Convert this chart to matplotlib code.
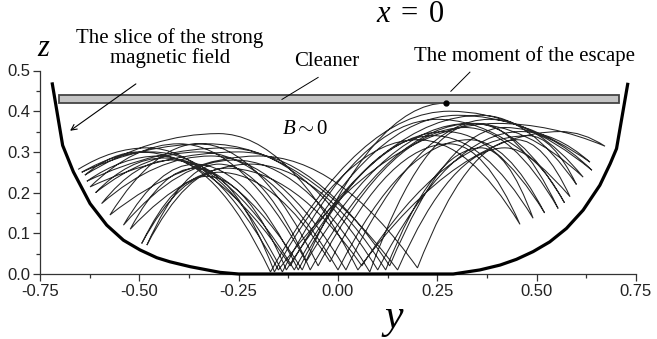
import matplotlib
matplotlib.use("Agg")
import matplotlib.pyplot as plt
from matplotlib.path import Path
from matplotlib.patches import PathPatch, Rectangle
import numpy as np

plt.rcParams['mathtext.fontset'] = 'custom'
plt.rcParams['mathtext.rm'] = 'Liberation Serif'
plt.rcParams['mathtext.it'] = 'Liberation Serif:italic'

# ---------------- data ----------------
x_ticks = [-0.75, -0.50, -0.25, 0.00, 0.25, 0.50, 0.75]
x_tick_labels = ['-0.75', '-0.50', '-0.25', '0.00', '0.25', '0.50', '0.75']
z_ticks = [0.0, 0.1, 0.2, 0.3, 0.4, 0.5]
z_tick_labels = ['0.0', '0.1', '0.2', '0.3', '0.4', '0.5']

# vessel boundary (slice of the strong magnetic field)
wall_y = [-0.719, -0.693, -0.666, -0.624, -0.582, -0.540, -0.498, -0.456, -0.423,
          -0.372, -0.297, -0.25, 0.29, 0.357, 0.408, 0.449, 0.491, 0.533, 0.575,
          0.617, 0.659, 0.685, 0.701, 0.729]
wall_z = [0.467, 0.316, 0.251, 0.173, 0.120, 0.083, 0.059, 0.040, 0.030,
          0.018, 0.004, 0.0, 0.0, 0.010, 0.022, 0.036, 0.055, 0.079, 0.112,
          0.157, 0.218, 0.271, 0.308, 0.466]

# cleaner plate
cleaner_y = [-0.701, 0.708]
cleaner_z = [0.420, 0.439]

# trajectory turning points (wall reflections / bottom bounces), in order
turn_y = [-0.654, -0.15, 0.672, 0.05, -0.637, -0.12, 0.634, 0.10, -0.632, -0.17,
          0.639, 0.13, -0.624, -0.08, 0.617, 0.02, -0.595, -0.14, 0.584, 0.20,
          -0.574, -0.05, 0.554, 0.08, -0.540, -0.10, 0.491, 0.12, -0.523, -0.16,
          0.458, -0.02, -0.494, -0.13, 0.600, 0.06, -0.481, -0.07, 0.570, 0.15,
          -0.645, -0.11, 0.520, 0.00, -0.610, -0.09]
turn_z = [0.257, 0.010, 0.314, 0.010, 0.243, 0.020, 0.275, 0.010, 0.228, 0.005,
          0.255, 0.020, 0.214, 0.030, 0.238, 0.010, 0.173, 0.005, 0.190, 0.015,
          0.145, 0.020, 0.161, 0.005, 0.120, 0.010, 0.137, 0.010, 0.110, 0.005,
          0.122, 0.030, 0.075, 0.010, 0.220, 0.020, 0.071, 0.010, 0.175, 0.010,
          0.250, 0.010, 0.150, 0.010, 0.200, 0.010]
# apex of each arc between consecutive turning points
apex_y = [-0.48, 0.40, 0.56, -0.30, -0.50, 0.30, 0.46, -0.28, -0.45, 0.28,
          0.42, -0.25, -0.40, 0.33, 0.38, -0.32, -0.42, 0.25, 0.45, -0.20,
          -0.35, 0.32, 0.35, -0.26, -0.36, 0.24, 0.36, -0.22, -0.36, 0.20,
          0.28, -0.30, -0.33, 0.36, 0.48, -0.28, -0.30, 0.34, 0.42, -0.33,
          -0.47, 0.27, 0.33, -0.35, -0.44]
apex_z = [0.310, 0.370, 0.350, 0.345, 0.300, 0.390, 0.350, 0.310, 0.290, 0.400,
          0.360, 0.300, 0.320, 0.370, 0.380, 0.290, 0.280, 0.380, 0.330, 0.290,
          0.320, 0.360, 0.370, 0.280, 0.270, 0.340, 0.310, 0.270, 0.260, 0.330,
          0.320, 0.250, 0.240, 0.390, 0.340, 0.260, 0.270, 0.370, 0.310, 0.320,
          0.300, 0.350, 0.330, 0.300, 0.285]
# moment of the escape (last apex touching the cleaner)
escape_y = 0.272
escape_z = 0.420

# ---------------- figure ----------------
W, H = 657, 339
fig = plt.figure(figsize=(W / 100, H / 100), dpi=100)
ax = fig.add_axes([40 / W, 1 - 274 / H, 596 / W, 203.5 / H])
ax.set_xlim(-0.75, 0.75)
ax.set_ylim(0, 0.5)

for s in ['top', 'right']:
    ax.spines[s].set_visible(False)
for s in ['left', 'bottom']:
    ax.spines[s].set_linewidth(0.9)
    ax.spines[s].set_color('#333333')

ax.set_xticks(x_ticks)
ax.set_xticklabels(x_tick_labels)
ax.set_yticks(z_ticks)
ax.set_yticklabels(z_tick_labels)
ax.set_xticks([-0.625, -0.375, -0.125, 0.125, 0.375, 0.625], minor=True)
ax.set_yticks([0.05, 0.15, 0.25, 0.35, 0.45], minor=True)
ax.tick_params(which='major', direction='out', length=5, width=0.9, color='#333333',
               labelsize=12, labelcolor='#222222', pad=2)
ax.tick_params(which='minor', direction='out', length=3, width=0.9, color='#333333')
for lab in ax.get_xticklabels() + ax.get_yticklabels():
    lab.set_fontfamily('Liberation Sans')

# trajectory as a chain of parabolic arcs (quadratic Bezier halves)
verts = [(turn_y[0], turn_z[0])]
codes = [Path.MOVETO]
n = len(apex_y)
for i in range(n):
    y0, z0 = turn_y[i], turn_z[i]
    ya, za = apex_y[i], apex_z[i]
    y1, z1 = turn_y[i + 1], turn_z[i + 1]
    verts += [((y0 + ya) / 2, za), (ya, za), ((ya + y1) / 2, za), (y1, z1)]
    codes += [Path.CURVE3] * 4
# final rise to the escape point
y0, z0 = turn_y[-1], turn_z[-1]
verts += [((y0 + escape_y) / 2, escape_z), (escape_y, escape_z)]
codes += [Path.CURVE3] * 2
ax.add_patch(PathPatch(Path(verts, codes), facecolor='none', edgecolor='#262626',
                       lw=0.75, zorder=2))

# vessel boundary
ax.plot(wall_y, wall_z, color='black', lw=2.3, clip_on=False, zorder=4,
        solid_joinstyle='round')

# cleaner
ax.add_patch(Rectangle((cleaner_y[0], cleaner_z[0]), cleaner_y[1] - cleaner_y[0],
                       cleaner_z[1] - cleaner_z[0], facecolor='#c4c4c4',
                       edgecolor='#444444', lw=1.3, zorder=3))

# escape point
ax.plot([escape_y], [escape_z], 'o', color='black', ms=3.5, zorder=5)

serif = 'Liberation Serif'
# annotations
ax.annotate('', xy=(-0.680, 0.348), xytext=(-0.503, 0.471),
            arrowprops=dict(arrowstyle='->', color='black', lw=0.8, mutation_scale=10),
            annotation_clip=False, zorder=6)
ax.plot([-0.05, -0.141], [0.483, 0.429], color='black', lw=0.7, clip_on=False, zorder=6)
ax.plot([0.332, 0.284], [0.496, 0.449], color='black', lw=0.7, clip_on=False, zorder=6)

fig.text(170 / W, 1 - 48 / H, 'The slice of the strong\nmagnetic field', family=serif,
         fontsize=15, ha='center', va='center', linespacing=1.05)
fig.text(327 / W, 1 - 62 / H, 'Cleaner', family=serif, fontsize=15, ha='center', va='center')
fig.text(524 / W, 1 - 56 / H, 'The moment of the escape', family=serif, fontsize=15,
         ha='center', va='center')
fig.text(410 / W, 1 - 14 / H, r'$x\;=\;0$', fontsize=22, ha='center', va='center')
ax.text(-0.083, 0.358, r'$B\sim0$', fontsize=15, ha='center', va='center')
fig.text(44 / W, 1 - 47 / H, r'$z$', fontsize=22, ha='center', va='center')
fig.text(393 / W, 1 - 318 / H, r'$y$', fontsize=30, ha='center', va='center')

fig.savefig('out.png', dpi=100)
